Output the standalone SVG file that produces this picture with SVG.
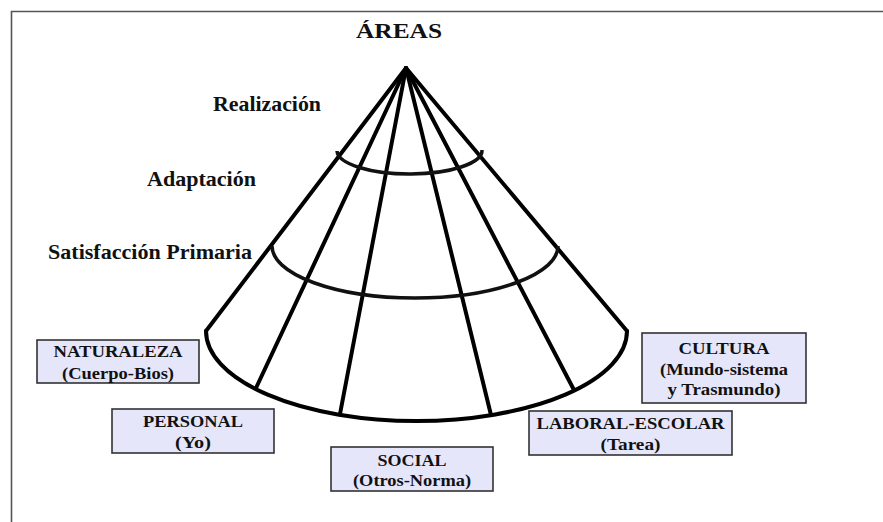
<svg xmlns="http://www.w3.org/2000/svg" width="883" height="522" viewBox="0 0 883 522">
<style>
  text{font-family:'Liberation Serif','DejaVu Serif Condensed','DejaVu Serif',serif;font-weight:bold;fill:#111;}
  .lvl{font-size:21px;}
  .box rect{fill:#E6E6FB;stroke:#333;stroke-width:1.6;}
  .box text{font-size:17.5px;text-anchor:middle;}
  .cone{fill:none;stroke:#000;stroke-width:4;stroke-linecap:round;}
  .ring{fill:none;stroke:#111;stroke-width:3.5;}
</style>
<rect x="0" y="0" width="883" height="522" fill="#fff"/>
<path d="M11.5,522 V11.5 H883" fill="none" stroke="#555" stroke-width="1.6"/>

<text x="356" y="38" font-size="21" textLength="86" lengthAdjust="spacingAndGlyphs">ÁREAS</text>
<text class="lvl" x="213" y="111" textLength="108" lengthAdjust="spacingAndGlyphs">Realización</text>
<text class="lvl" x="147" y="186" textLength="109" lengthAdjust="spacingAndGlyphs">Adaptación</text>
<text class="lvl" x="48" y="259" textLength="204" lengthAdjust="spacingAndGlyphs">Satisfacción Primaria</text>

<g id="connectors">
  <path class="cone" d="M406,68 L206,331"/>
  <path class="cone" d="M406,68 L256,388"/>
  <path class="cone" d="M406,68 L340,414"/>
  <path class="cone" d="M406,68 L491,415"/>
  <path class="cone" d="M406,68 L574,390"/>
  <path class="cone" d="M406,68 L627,331"/>
  <path class="cone" d="M206,331 A210.5,90 0 0 0 627,331"/>
  <path class="ring" d="M337,151 A72.5,23.5 0 0 0 482,150"/>
  <path class="ring" d="M272,246 A143,52 0 0 0 558,246"/>
</g>

<g id="naturaleza" class="box">
  <rect x="37" y="340" width="162" height="43"/>
  <text x="118" y="357" textLength="129" lengthAdjust="spacingAndGlyphs">NATURALEZA</text>
  <text x="118" y="379" textLength="112" lengthAdjust="spacingAndGlyphs">(Cuerpo-Bios)</text>
</g>
<g id="personal" class="box">
  <rect x="112" y="409" width="162" height="44"/>
  <text x="193" y="427" textLength="100" lengthAdjust="spacingAndGlyphs">PERSONAL</text>
  <text x="193" y="448" textLength="36" lengthAdjust="spacingAndGlyphs">(Yo)</text>
</g>
<g id="social" class="box">
  <rect x="331" y="447" width="162" height="44"/>
  <text x="412" y="466" textLength="69" lengthAdjust="spacingAndGlyphs">SOCIAL</text>
  <text x="412" y="486" textLength="118" lengthAdjust="spacingAndGlyphs">(Otros-Norma)</text>
</g>
<g id="laboral" class="box">
  <rect x="529" y="411" width="203" height="44"/>
  <text x="630.5" y="429" textLength="188" lengthAdjust="spacingAndGlyphs">LABORAL-ESCOLAR</text>
  <text x="630.5" y="450" textLength="60" lengthAdjust="spacingAndGlyphs">(Tarea)</text>
</g>
<g id="cultura" class="box">
  <rect x="642" y="333" width="164" height="70"/>
  <text x="724" y="354" textLength="91" lengthAdjust="spacingAndGlyphs">CULTURA</text>
  <text x="724" y="375" textLength="128" lengthAdjust="spacingAndGlyphs">(Mundo-sistema</text>
  <text x="724" y="395" textLength="113" lengthAdjust="spacingAndGlyphs">y Trasmundo)</text>
</g>
</svg>
